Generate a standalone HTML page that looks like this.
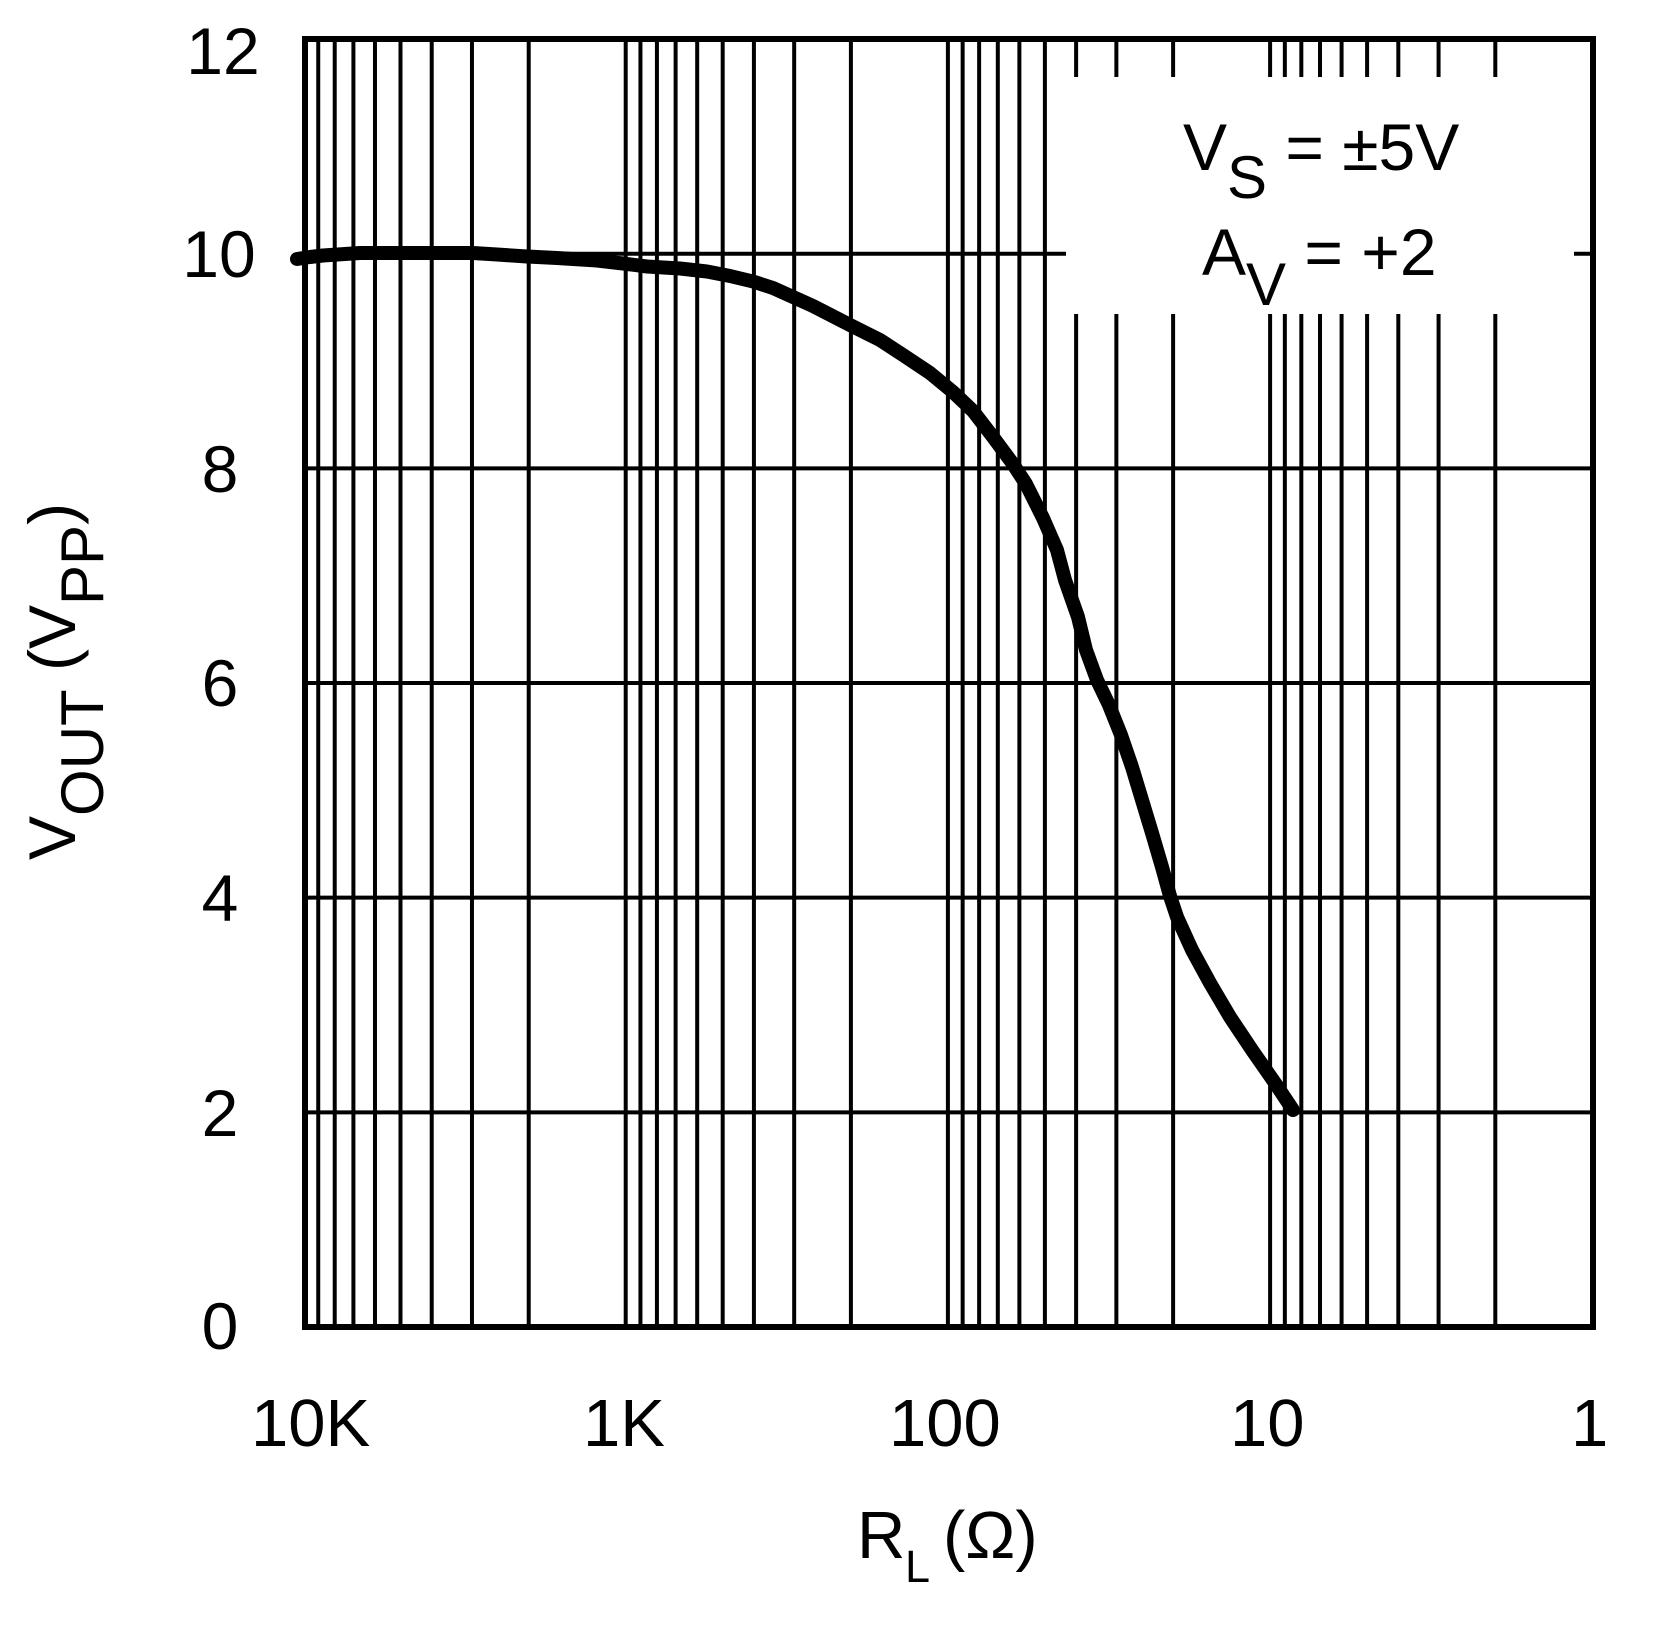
<!DOCTYPE html>
<html>
<head>
<meta charset="utf-8">
<style>
  html, body { margin:0; padding:0; background:#fff; }
  body { width:1664px; height:1638px; overflow:hidden; }
  svg { display:block; }
  text { font-family: "Liberation Sans", Arial, sans-serif; fill:#000; }
</style>
</head>
<body>
<svg id="chart" width="1664" height="1638" viewBox="0 0 1664 1638" xmlns="http://www.w3.org/2000/svg">
  <rect x="0" y="0" width="1664" height="1638" fill="#fff"/>
  <g id="grid" stroke="#000" stroke-width="4"></g>
  <!-- legend white box -->
  <rect x="1066" y="77" width="508" height="237" fill="#fff"/>
  <!-- curve -->
  <polyline fill="none" stroke="#000" stroke-width="14" stroke-linejoin="round" stroke-linecap="round"
    points="297,259 310,257 323,255.5 345,254 360,253 413,253 473,253 497,254.5 527,256.5 557,258 597,260.5 623,263.5 647,266.5 680,268.5 707,271.5 730,276 753,281.5 773,288 793,297 813,306 850,325 880,340 903,355 930,373 953,392 973,411 993,437 1013,464 1026,484 1043,518 1057,550 1065,580 1078,617 1086,650 1097,680 1109,705 1121,735 1132,767 1142,800 1152,833 1162,867 1170,896 1177,917 1192,950 1210,983 1230,1017 1252,1050 1275,1083 1293,1110"/>
  <!-- border -->
  <rect x="305" y="39" width="1288" height="1288" fill="none" stroke="#000" stroke-width="6"/>

  <!-- y tick labels -->
  <g font-size="66" text-anchor="middle">
    <text x="223" y="74">12</text>
    <text x="219" y="277">10</text>
    <text x="220" y="492">8</text>
    <text x="220" y="706">6</text>
    <text x="220" y="921">4</text>
    <text x="220" y="1136">2</text>
    <text x="220" y="1349">0</text>
  </g>

  <!-- x tick labels -->
  <g font-size="67">
    <text x="251" y="1446">10K</text>
    <text x="583" y="1446">1K</text>
    <text x="889" y="1446">100</text>
    <text x="1230" y="1446">10</text>
    <text x="1571" y="1446">1</text>
  </g>

  <!-- x axis title -->
  <text x="857" y="1558" font-size="67">R</text>
  <text x="905" y="1582" font-size="45">L</text>
  <text x="943" y="1558" font-size="67">(Ω)</text>

  <!-- y axis title -->
  <text transform="translate(75,860) rotate(-90)" font-size="66">V<tspan font-size="60" dy="28">OUT</tspan><tspan dy="-28"> (V</tspan><tspan font-size="60" dy="28">PP</tspan><tspan dy="-28">)</tspan></text>

  <!-- legend -->
  <text x="1183" y="170" font-size="66">V<tspan font-size="60" dy="28">S</tspan><tspan dy="-28"> = ±5V</tspan></text>
  <text x="1202" y="275" font-size="66">A<tspan font-size="60" dy="30">V</tspan><tspan dy="-30"> = +2</tspan></text>
</svg>
<script>
(function(){
  var g = document.getElementById('grid');
  var ns = 'http://www.w3.org/2000/svg';
  var X0 = 303.5, D = 322.2, top = 39, bot = 1327, left = 305, right = 1593;
  function line(x1,y1,x2,y2){
    var l = document.createElementNS(ns,'line');
    l.setAttribute('x1',x1); l.setAttribute('y1',y1);
    l.setAttribute('x2',x2); l.setAttribute('y2',y2);
    g.appendChild(l);
  }
  for (var k = 3; k >= 0; k--) {
    for (var m = 9; m >= 1; m--) {
      var v = m * Math.pow(10, k);
      var x = X0 + (4 - Math.log10(v)) * D;
      if (x > left + 2 && x < right - 2) line(x, top, x, bot);
    }
  }
  for (var vv = 2; vv <= 10; vv += 2) {
    var y = 1327 - vv * 107.33;
    line(left, y, right, y);
  }
})();
</script>
</body>
</html>
